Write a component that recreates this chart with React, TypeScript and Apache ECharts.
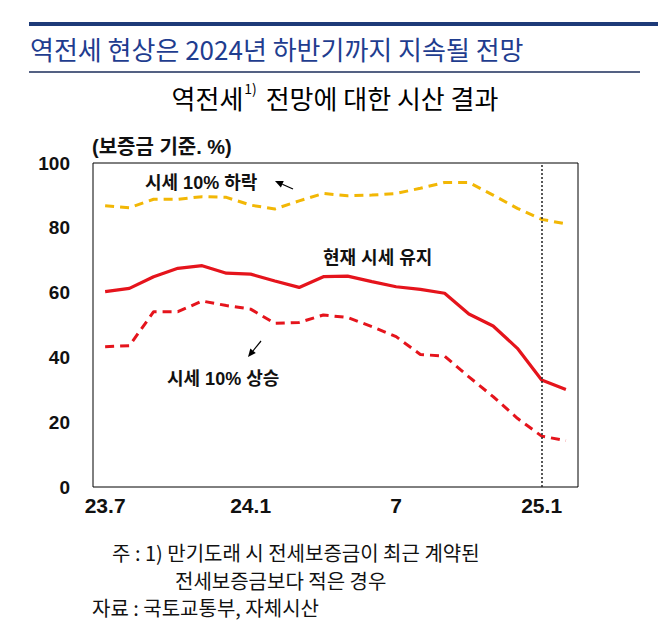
import React, { useEffect, useRef } from 'react';
import * as echarts from 'echarts';

const months = [
  '23.7', '23.8', '23.9', '23.10', '23.11', '23.12',
  '24.1', '24.2', '24.3', '24.4', '24.5', '24.6',
  '24.7', '24.8', '24.9', '24.10', '24.11', '24.12',
  '25.1', '25.2',
];
const tickLabels: Record<string, string> = { '23.7': '23.7', '24.1': '24.1', '24.7': '7', '25.1': '25.1' };

// 현재 시세 유지
const keepCurrent = [60.3, 61.3, 64.9, 67.5, 68.3, 66.0, 65.7, 63.6, 61.6, 64.9, 65.1, 63.4, 61.8, 61.0, 59.8, 53.4, 49.7, 42.8, 33.0, 30.1];
// 시세 10% 하락
const priceDown = [86.8, 86.2, 88.8, 88.8, 89.6, 89.4, 87.0, 85.8, 88.3, 90.6, 89.9, 90.1, 90.6, 92.2, 94.0, 94.0, 90.1, 86.0, 82.6, 81.2];
// 시세 10% 상승
const priceUp = [43.3, 43.6, 54.1, 54.1, 57.4, 56.0, 54.9, 50.5, 50.8, 53.1, 52.3, 49.5, 46.4, 40.9, 40.4, 34.0, 27.9, 21.2, 15.7, 14.3];

const forecastStart = '25.1';

const LAT = "'Liberation Sans', 'Noto Sans CJK KR', sans-serif";
const KR = "'Noto Sans CJK KR', 'Liberation Sans', sans-serif";
const RED = '#e5141c';
const GOLD = '#f2b705';

export default function App() {
  const ref = useRef<HTMLDivElement>(null);
  useEffect(() => {
    if (!ref.current) return;
    const chart = echarts.init(ref.current, undefined, { renderer: 'svg' });
    const arrow = (x1: number, y1: number, x2: number, y2: number) => {
      const ang = Math.atan2(y2 - y1, x2 - x1);
      const L = 8, W = 3.5;
      const bx = x2 - L * Math.cos(ang), by = y2 - L * Math.sin(ang);
      const px = -Math.sin(ang) * W, py = Math.cos(ang) * W;
      return [
        { type: 'line', shape: { x1, y1, x2: bx, y2: by }, style: { stroke: '#000', lineWidth: 1.2 } },
        { type: 'polygon', shape: { points: [[x2, y2], [bx + px, by + py], [bx - px, by - py]] }, style: { fill: '#000' } },
      ];
    };
    chart.setOption({
      animation: false,
      grid: { left: 93, right: 80, top: 163, bottom: 148, show: true, borderColor: '#000', borderWidth: 1, backgroundColor: 'transparent' },
      xAxis: {
        type: 'category',
        data: months,
        boundaryGap: true,
        axisLine: { show: false },
        axisTick: { show: false },
        splitLine: { show: false },
        axisLabel: {
          interval: 5,
          margin: 8,
          fontSize: 21,
          fontWeight: 'bold',
          fontFamily: LAT,
          color: '#111',
          formatter: (v: string) => tickLabels[v] ?? '',
        },
      },
      yAxis: {
        type: 'value',
        min: 0,
        max: 100,
        interval: 20,
        axisLine: { show: false },
        axisTick: { show: false },
        splitLine: { show: false },
        axisLabel: { margin: 23, fontSize: 19, fontWeight: 'bold', fontFamily: LAT, color: '#111' },
      },
      series: [
        {
          name: '시세 10% 하락',
          type: 'line',
          data: priceDown,
          symbol: 'none',
          lineStyle: { color: GOLD, width: 3, type: [9, 6] },
        },
        {
          name: '현재 시세 유지',
          type: 'line',
          data: keepCurrent,
          symbol: 'none',
          lineStyle: { color: RED, width: 3.2 },
          markLine: {
            silent: true,
            symbol: 'none',
            label: { show: false },
            lineStyle: { color: '#222', width: 1.5, type: [2, 2] },
            data: [{ xAxis: forecastStart }],
          },
        },
        {
          name: '시세 10% 상승',
          type: 'line',
          data: priceUp,
          symbol: 'none',
          lineStyle: { color: RED, width: 3, type: [9, 6] },
        },
      ],
      graphic: [
        { type: 'rect', shape: { x: 29, y: 22, width: 629, height: 4 }, style: { fill: '#1d3a78' } },
        {
          type: 'text', x: 30, y: 48,
          style: { text: '역전세 현상은 2024년 하반기까지 지속될 전망', fontSize: 26, fontFamily: KR, fill: '#1f3d8f', verticalAlign: 'middle' },
        },
        { type: 'line', shape: { x1: 29, y1: 72, x2: 640, y2: 72 }, style: { stroke: '#1b2d5a', lineWidth: 1.5 } },
        {
          type: 'text', x: 335, y: 97,
          style: {
            text: '{a|역전세}{s|1)}{a| 전망에 대한 시산 결과}',
            fill: '#000',
            align: 'center',
            verticalAlign: 'middle',
            rich: {
              a: { fontSize: 26, fontFamily: KR, fill: '#000', lineHeight: 32 },
              s: { fontSize: 14, fontFamily: KR, fill: '#000', verticalAlign: 'top', lineHeight: 32, padding: [0, 3, 14, 1] },
            },
          },
        },
        {
          type: 'text', x: 92, y: 147,
          style: { text: '(보증금 기준. %)', fontSize: 20, fontWeight: 'bold', fontFamily: LAT, fill: '#111', verticalAlign: 'middle' },
        },
        {
          type: 'text', x: 145, y: 183,
          style: { text: '시세 10% 하락', fontSize: 18, fontWeight: 'bold', fontFamily: LAT, fill: '#111', verticalAlign: 'middle' },
        },
        {
          type: 'text', x: 323, y: 258,
          style: { text: '현재 시세 유지', fontSize: 18, fontWeight: 'bold', fontFamily: LAT, fill: '#111', verticalAlign: 'middle' },
        },
        {
          type: 'text', x: 167, y: 379,
          style: { text: '시세 10% 상승', fontSize: 18, fontWeight: 'bold', fontFamily: LAT, fill: '#111', verticalAlign: 'middle' },
        },
        ...arrow(293, 189, 275, 181),
        ...arrow(261, 341, 248, 357),
        {
          type: 'text', x: 112, y: 552,
          style: { text: '주 : 1) 만기도래 시 전세보증금이 최근 계약된', fontSize: 20, fontFamily: KR, fill: '#111', verticalAlign: 'middle' },
        },
        {
          type: 'text', x: 175, y: 580,
          style: { text: '전세보증금보다 적은 경우', fontSize: 20, fontFamily: KR, fill: '#111', verticalAlign: 'middle' },
        },
        {
          type: 'text', x: 92, y: 607,
          style: { text: '자료 : 국토교통부, 자체시산', fontSize: 20, fontFamily: KR, fill: '#111', verticalAlign: 'middle' },
        },
      ],
    });
    return () => chart.dispose();
  }, []);
  return <div ref={ref} style={{ position: 'absolute', left: 0, top: 0, width: 658, height: 635, background: '#fff' }} />;
}
